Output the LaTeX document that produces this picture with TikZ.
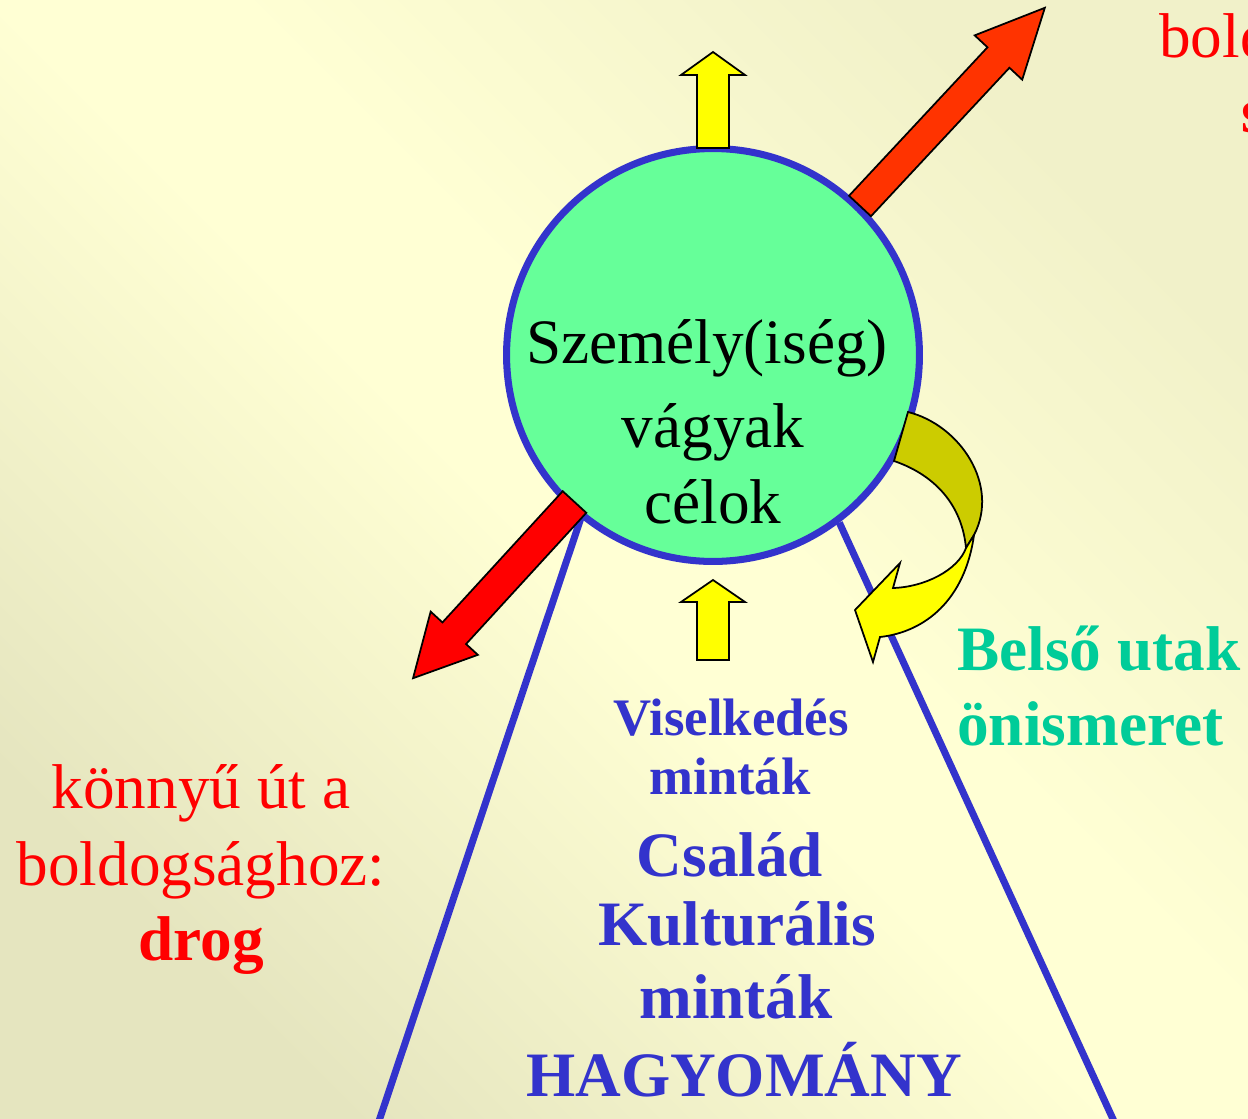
\documentclass[tikz,border=0pt]{standalone}
\usepackage{fontspec}
\setmainfont{Liberation Serif}
\usetikzlibrary{positioning}
\definecolor{BgLight}{HTML}{FFFFD4}
\definecolor{BgDark}{HTML}{E5E5BF}
\definecolor{BgMid}{HTML}{F1F1C9}
\definecolor{PersonFill}{HTML}{66FF99}
\definecolor{LineBlue}{HTML}{3333CC}
\definecolor{ArrowRed}{HTML}{FF3300}
\definecolor{ArrowPure}{HTML}{FF0000}
\definecolor{ArrowYellow}{HTML}{FFFF00}
\definecolor{ArrowOlive}{HTML}{CCCC00}
\definecolor{PathTeal}{HTML}{00CC99}

\pgfdeclarehorizontalshading{bgshade}{100bp}{color(0bp)=(BgDark); color(25bp)=(BgDark);
  color(48bp)=(BgLight); color(55bp)=(BgLight); color(75bp)=(BgMid); color(100bp)=(BgMid)}

\tikzset{
  arrowbody/.style={draw=black, line width=1pt, line join=miter},
  person/.style={circle, draw=LineBlue, line width=4pt, fill=PersonFill,
    minimum size=8.26cm, inner sep=0pt},
  sideline/.style={draw=LineBlue, line width=4pt},
  bigtext/.style={font=\fontsize{36}{45}\selectfont, anchor=base, inner sep=0pt},
  smalltext/.style={font=\fontsize{30}{38}\selectfont\bfseries, anchor=base,
    inner sep=0pt, text=LineBlue}
}

% position, angle, length, shaft width, head width, head length, colour
\newcommand{\blockarrow}[7]{%
  \begin{scope}[shift={#1}, rotate=#2]
    \draw[arrowbody, fill=#7] (0,-#4/2) -- (#3-#6,-#4/2) -- (#3-#6,-#5/2)
      -- (#3,0) -- (#3-#6,#5/2) -- (#3-#6,#4/2) -- (0,#4/2) -- cycle;
  \end{scope}}

\begin{document}
\begin{tikzpicture}[x=0.02cm, y=-0.02cm]
  \useasboundingbox (0,0) rectangle (1248,1119);
  \clip (0,0) rectangle (1248,1119);
  \shade[shading=bgshade, shading angle=45] (0,0) rectangle (1248,1119);

  \node[person] (pers) at (713,355) {};
  \coordinate (lbase) at (376,1130);
  \coordinate (rbase) at (1118,1130);
  \draw[sideline] (pers.231.5) -- (lbase);
  \draw[sideline] (pers.307.7) -- (rbase);

  \node[bigtext] (pname) at (707,363) {Személy(iség)};
  \node[bigtext] (pwish) at (713,447) {vágyak};
  \node[bigtext] (pgoal) at (713,523) {célok};

  \blockarrow{(713,148)}{90}{96}{32}{64}{23}{ArrowYellow}
  \blockarrow{(713,660)}{90}{80}{32}{64}{22}{ArrowYellow}
  \blockarrow{(860,206)}{47}{271}{30}{65}{68}{ArrowRed}
  \blockarrow{(574.5,502)}{227.5}{239}{32}{64}{61}{ArrowPure}

  \draw[arrowbody, fill=ArrowOlive] (908,412) .. controls (960,425) and (1000,485) .. (974,535)
    -- (966,548) .. controls (962,505) and (935,475) .. (894,461) -- cycle;
  \draw[arrowbody, fill=ArrowYellow] (974,535) .. controls (965,600) and (925,632) .. (880,637)
    -- (873,662) -- (855,610) -- (900,563) -- (893,588)
    .. controls (925,587) and (958,570) .. (966,548) -- cycle;

  \node[bigtext, text=ArrowPure] (easy1) at (201,808) {könnyű út a};
  \node[bigtext, text=ArrowPure] (easy2) at (201,885) {boldogsághoz:};
  \node[bigtext, text=ArrowPure, font=\fontsize{36}{45}\selectfont\bfseries] (easy3) at (201,960) {drog};

  \node[bigtext, text=ArrowPure, anchor=base west] (hard1) at (1159,57) {bold};
  \node[bigtext, text=ArrowPure, anchor=base west, font=\fontsize{36}{45}\selectfont\bfseries] (hard2) at (1241,132) {s};

  \node[bigtext, text=PathTeal, anchor=base west, font=\fontsize{36}{45}\selectfont\bfseries] (inner1) at (957,670) {Belső utak};
  \node[bigtext, text=PathTeal, anchor=base west, font=\fontsize{36}{45}\selectfont\bfseries] (inner2) at (957,745) {önismeret};

  \node[smalltext] (beh1) at (731,735) {Viselkedés};
  \node[smalltext] (beh2) at (730,794) {minták};
  \node[bigtext, text=LineBlue, font=\fontsize{36}{45}\selectfont\bfseries] (fam) at (730,876) {Család};
  \node[bigtext, text=LineBlue, font=\fontsize{36}{45}\selectfont\bfseries] (cult1) at (737,945) {Kulturális};
  \node[bigtext, text=LineBlue, font=\fontsize{36}{45}\selectfont\bfseries] (cult2) at (736,1018) {minták};
  \node[bigtext, text=LineBlue, font=\fontsize{36}{45}\selectfont\bfseries] (trad) at (744,1096) {HAGYOMÁNY};
\end{tikzpicture}
\end{document}
